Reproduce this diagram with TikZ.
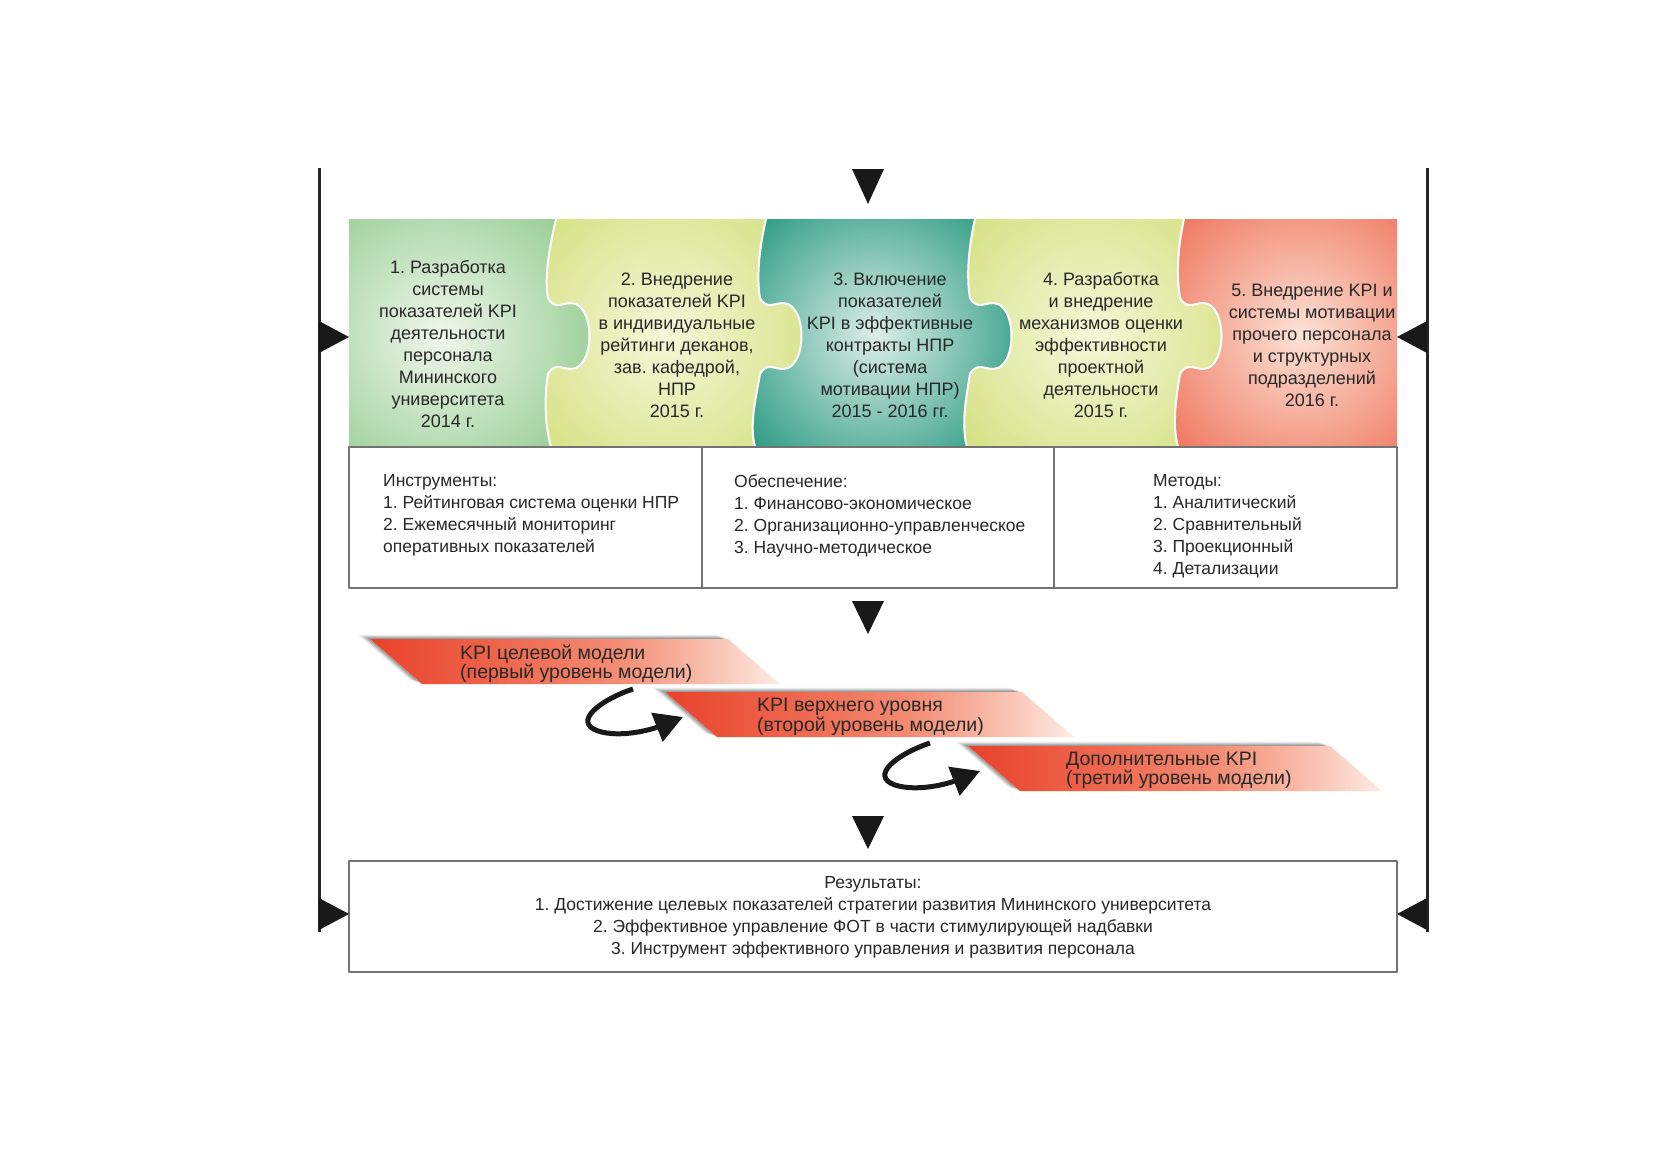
\documentclass[tikz,border=0pt]{standalone}
\usepackage{fontspec}
\setmainfont{Liberation Sans}
\usetikzlibrary{arrows.meta}
\frenchspacing
\definecolor{g1out}{RGB}{150,205,148}
\definecolor{g1in}{RGB}{240,247,235}
\definecolor{y2out}{RGB}{212,224,128}
\definecolor{y2in}{RGB}{246,247,216}
\definecolor{t3out}{RGB}{50,158,134}
\definecolor{t3in}{RGB}{220,238,231}
\definecolor{r5out}{RGB}{239,118,94}
\definecolor{r5in}{RGB}{252,226,214}
\definecolor{txt}{RGB}{40,40,40}
\definecolor{kpiA}{RGB}{232,66,44}
\definecolor{kpiB}{RGB}{238,100,75}
\definecolor{kpiC}{RGB}{243,140,115}
\definecolor{kpiD}{RGB}{250,200,185}
\definecolor{kpiE}{RGB}{253,236,228}
\pgfdeclarehorizontalshading{kpishade}{100bp}{color(0bp)=(kpiA); color(25bp)=(kpiA); color(40bp)=(kpiB); color(55bp)=(kpiC); color(68bp)=(kpiD); color(75bp)=(kpiE); color(100bp)=(kpiE)}
\tikzset{
  frameline/.style={line width=3pt, draw=black!85},
  marker/.style={fill=black!90, draw=none},
  boxline/.style={draw=black!55, line width=1.4pt},
  stagetext/.style={align=center, text=txt, font=\fontsize{18}{22}\selectfont, inner sep=0pt},
  listtext/.style={align=left, text=txt, font=\fontsize{17.5}{22}\selectfont, inner sep=0pt, anchor=north west},
  restext/.style={align=center, text=txt, font=\fontsize{17.5}{22}\selectfont, inner sep=0pt},
  kpitext/.style={align=left, text=txt, font=\fontsize{19.5}{18}\selectfont, inner sep=0pt, anchor=west},
  curlarrow/.style={line width=5pt, draw=black!90, -{Triangle[length=28pt,width=30pt]}},
  seamline/.style={draw=white, line width=2pt},
}
\begin{document}
\begin{tikzpicture}[x=1pt,y=-1pt,line join=round]
\useasboundingbox (0,0) rectangle (1662,1175);
\fill[white] (0,0) rectangle (1662,1175);

% ---------- puzzle band ----------
\begin{scope}
  \clip (349,219) rectangle (1397,447);
  \fill[g1out] (349,219) rectangle (1397,447);
  \shade[inner color=g1in, outer color=g1out] (270,165) rectangle (610,505);
\end{scope}
\foreach \xt/\xk/\xb/\cx/\cin/\cout/\h in {556/548/551/665/y2in/y2out/175, 766/760/755/875/t3in/t3out/160, 975/970/967/1090/y2in/y2out/175, 1184/1180/1178/1300/r5in/r5out/170} {
  \begin{scope}
    \clip (\xt,219) .. controls (\xt-6,245) and (\xk-4,275) .. (\xk,298)
      .. controls (\xk+8,312) and (\xk+16,300) .. (\xk+28,304)
      .. controls (\xk+46,312) and (\xk+46,360) .. (\xk+28,368)
      .. controls (\xk+16,372) and (\xk+8,360) .. (\xk,374)
      .. controls (\xk-4,398) and (\xb-6,425) .. (\xb,447)
      -- (1397,447) -- (1397,219) -- cycle;
    \fill[\cout] (349,219) rectangle (1397,447);
    \shade[inner color=\cin, outer color=\cout] (\cx-\h,335-\h) rectangle (\cx+\h,335+\h);
  \end{scope}
  \draw[seamline] (\xt,219) .. controls (\xt-6,245) and (\xk-4,275) .. (\xk,298)
      .. controls (\xk+8,312) and (\xk+16,300) .. (\xk+28,304)
      .. controls (\xk+46,312) and (\xk+46,360) .. (\xk+28,368)
      .. controls (\xk+16,372) and (\xk+8,360) .. (\xk,374)
      .. controls (\xk-4,398) and (\xb-6,425) .. (\xb,447);
}

\node[stagetext] (s1) at (448,344) {1. Разработка\\системы\\показателей KPI\\деятельности\\персонала\\Мининского\\университета\\2014 г.};
\node[stagetext] (s2) at (677,345) {2. Внедрение\\показателей KPI\\в индивидуальные\\рейтинги деканов,\\зав. кафедрой,\\НПР\\2015 г.};
\node[stagetext] (s3) at (890,345) {3. Включение\\показателей\\KPI в эффективные\\контракты НПР\\(система\\мотивации НПР)\\2015 - 2016 гг.};
\node[stagetext] (s4) at (1101,345) {4. Разработка\\и внедрение\\механизмов оценки\\эффективности\\проектной\\деятельности\\2015 г.};
\node[stagetext] (s5) at (1312,345) {5. Внедрение KPI и\\системы мотивации\\прочего персонала\\и структурных\\подразделений\\2016 г.};

% ---------- table ----------
\draw[boxline] (349,447) rectangle (1397,588);
\draw[boxline] (702,447) -- (702,588);
\draw[boxline] (1054,447) -- (1054,588);
\node[listtext] (t1) at (383,474) {Инструменты:\\1. Рейтинговая система оценки НПР\\2. Ежемесячный мониторинг\\оперативных показателей};
\node[listtext] (t2) at (734,474) {Обеспечение:\\1. Финансово-экономическое\\2. Организационно-управленческое\\3. Научно-методическое};
\node[listtext] (t3) at (1153,474) {Методы:\\1. Аналитический\\2. Сравнительный\\3. Проекционный\\4. Детализации};

% ---------- KPI levels ----------
\foreach \a/\y/\w in {370/639/358, 665/692/357, 968/746/362} {
  \foreach \k/\op in {12/0.08, 9/0.1, 6/0.13, 3/0.15} {
    \fill[black, opacity=\op] (\a-\k,\y-\k*0.35) -- (\a+\w-\k,\y-\k*0.35) -- (\a+\w+52-\k,\y+45-\k*0.35) -- (\a+52-\k,\y+45-\k*0.35) -- cycle;
  }
  \fill[white] (\a,\y) -- (\a+\w,\y) -- (\a+\w+52,\y+45) -- (\a+52,\y+45) -- cycle;
  \shade[shading=kpishade] (\a,\y) -- (\a+\w,\y) -- (\a+\w+52,\y+45) -- (\a+52,\y+45) -- cycle;
}
\node[kpitext] (k1) at (460,664) {KPI целевой модели\\(первый уровень модели)};
\node[kpitext] (k2) at (757,717) {KPI верхнего уровня\\(второй уровень модели)};
\node[kpitext] (k3) at (1066,770) {Дополнительные KPI\\(третий уровень модели)};

\coordinate (a1s) at (633,689);
\coordinate (a1e) at (683,717);
\coordinate (a2s) at (930,743);
\coordinate (a2e) at (980,771);
\draw[curlarrow] (a1s) .. controls (600,700) and (572,722) .. (598,731) .. controls (620,738) and (650,730) .. (a1e);
\draw[curlarrow] (a2s) .. controls (897,754) and (869,776) .. (895,785) .. controls (917,792) and (947,784) .. (a2e);

% ---------- results ----------
\draw[boxline] (349,861) rectangle (1397,972);
\node[restext] (res) at (873,917) {Результаты:\\1. Достижение целевых показателей стратегии развития Мининского университета\\2. Эффективное управление ФОТ в части стимулирующей надбавки\\3. Инструмент эффективного управления и развития персонала};

% ---------- frame lines and markers ----------
\coordinate (lt) at (319,168);
\coordinate (lb) at (319,932);
\coordinate (rt) at (1427,168);
\coordinate (rb) at (1427,932);
\draw[frameline] (lt) -- (lb);
\draw[frameline] (rt) -- (rb);
\fill[marker] (319,321) -- (349,337) -- (319,353) -- cycle;
\fill[marker] (319,898) -- (349,914) -- (319,930) -- cycle;
\fill[marker] (1427,321) -- (1397,337) -- (1427,353) -- cycle;
\fill[marker] (1427,898) -- (1397,914) -- (1427,930) -- cycle;
\fill[marker] (852,169) -- (884,169) -- (868,204) -- cycle;
\fill[marker] (852,601) -- (884,601) -- (868,634) -- cycle;
\fill[marker] (852,816) -- (884,816) -- (868,849) -- cycle;
\end{tikzpicture}
\end{document}
